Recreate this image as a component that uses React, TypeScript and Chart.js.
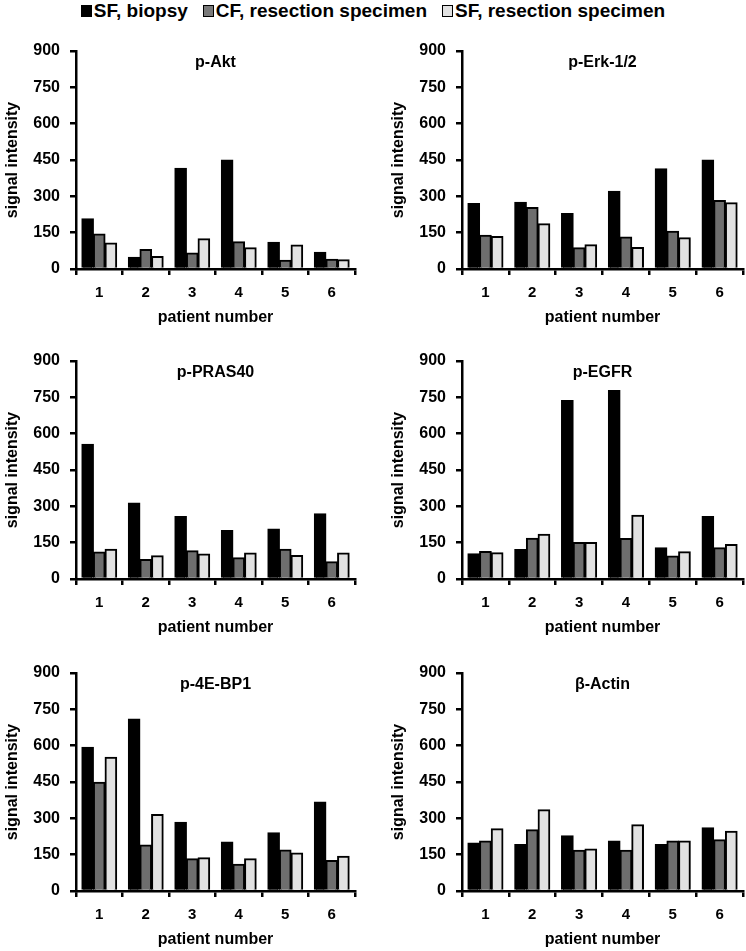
import { useEffect, useRef } from "react";
import { Chart, registerables, type ChartConfiguration, type Plugin } from "chart.js";

Chart.register(...registerables);

const FONT = '"Liberation Sans", Arial, sans-serif';

const patients = ["1", "2", "3", "4", "5", "6"];
const yTicks = [0, 150, 300, 450, 600, 750, 900];
const seriesLabels = ["SF, biopsy", "CF, resection specimen", "SF, resection specimen"];
const seriesColors = ["#000000", "#6e6e6e", "#e2e2e2"];

// p-Akt
const aktSfBiopsy = [207, 48, 416, 450, 110, 69];
const aktCfResection = [145, 80, 66, 112, 36, 40];
const aktSfResection = [107, 52, 125, 88, 99, 38];

// p-Erk-1/2
const erkSfBiopsy = [270, 276, 229, 321, 414, 450];
const erkCfResection = [139, 254, 88, 132, 156, 283];
const erkSfResection = [134, 187, 100, 89, 129, 274];

// p-PRAS40
const prasSfBiopsy = [556, 314, 258, 200, 206, 269];
const prasCfResection = [111, 80, 117, 88, 123, 71];
const prasSfResection = [123, 96, 103, 107, 97, 107];

// p-EGFR
const egfrSfBiopsy = [104, 122, 737, 778, 129, 258];
const egfrCfResection = [114, 168, 151, 167, 95, 129];
const egfrSfResection = [108, 185, 151, 263, 112, 142];

// p-4E-BP1
const bp1SfBiopsy = [593, 710, 284, 202, 240, 367];
const bp1CfResection = [449, 190, 133, 110, 169, 126];
const bp1SfResection = [552, 316, 137, 133, 157, 143];

// β-Actin
const actinSfBiopsy = [198, 192, 228, 206, 192, 261];
const actinCfResection = [206, 253, 168, 168, 206, 212];
const actinSfResection = [257, 335, 173, 273, 206, 247];

const panelTitles = ["p-Akt", "p-Erk-1/2", "p-PRAS40", "p-EGFR", "p-4E-BP1", "β-Actin"];
const panelSeries = [
  [aktSfBiopsy, aktCfResection, aktSfResection],
  [erkSfBiopsy, erkCfResection, erkSfResection],
  [prasSfBiopsy, prasCfResection, prasSfResection],
  [egfrSfBiopsy, egfrCfResection, egfrSfResection],
  [bp1SfBiopsy, bp1CfResection, bp1SfResection],
  [actinSfBiopsy, actinCfResection, actinSfResection],
];

const ROW_TOPS = [30, 340, 652];
const PANEL_H = 298;

const innerTitle: Plugin<"bar"> = {
  id: "innerTitle",
  afterDraw(chart) {
    const text = (chart.options.plugins as any).innerTitle?.text;
    if (!text) return;
    const { ctx, chartArea } = chart;
    ctx.save();
    ctx.font = `bold 16px ${FONT}`;
    ctx.fillStyle = "#000";
    ctx.textAlign = "center";
    ctx.textBaseline = "middle";
    ctx.fillText(text, (chartArea.left + chartArea.right) / 2, chartArea.top + 12);
    ctx.restore();
  },
};

function Panel({
  title,
  series,
  width,
  plotRight,
}: {
  title: string;
  series: number[][];
  width: number;
  plotRight: number;
}) {
  const canvasRef = useRef<HTMLCanvasElement | null>(null);

  useEffect(() => {
    const canvas = canvasRef.current;
    if (!canvas) return;

    const config: ChartConfiguration<"bar"> = {
      type: "bar",
      data: {
        labels: patients,
        datasets: series.map((values, i) => ({
          label: seriesLabels[i],
          data: values,
          backgroundColor: seriesColors[i],
          borderColor: "#000",
          borderWidth: 2,
          inflateAmount: 0.5,
          barPercentage: 1,
          categoryPercentage: 0.75,
        })),
      },
      options: {
        animation: false,
        responsive: false,
        maintainAspectRatio: false,
        layout: { padding: { top: 21, right: width - plotRight, left: 0, bottom: 0 } },
        plugins: {
          legend: { display: false },
          tooltip: { enabled: false },
          innerTitle: { text: title },
        } as any,
        scales: {
          x: {
            afterFit(scale) {
              scale.height = 59;
            },
            ticks: { color: "#000", font: { family: FONT, size: 15, weight: "bold" }, padding: 9 },
            grid: {
              drawOnChartArea: false,
              color: "#000",
              lineWidth: 2.5,
              tickLength: 6,
            },
            border: { color: "#000", width: 2.5 },
            title: {
              display: true,
              text: "patient number",
              color: "#000",
              font: { family: FONT, size: 16, weight: "bold" },
              padding: { top: 0, bottom: 1 },
            },
          },
          y: {
            min: 0,
            max: 900,
            afterFit(scale) {
              scale.width = 76;
            },
            afterBuildTicks(scale) {
              scale.ticks = yTicks.map((value) => ({ value }));
            },
            ticks: { color: "#000", font: { family: FONT, size: 16, weight: "bold" }, padding: 10 },
            grid: {
              drawOnChartArea: false,
              color: "#000",
              lineWidth: 2.5,
              tickLength: 6,
            },
            border: { color: "#000", width: 2.5 },
            title: {
              display: true,
              text: "signal intensity",
              color: "#000",
              font: { family: FONT, size: 16, weight: "bold" },
              padding: { top: 3, bottom: 0 },
            },
          },
        },
      },
      plugins: [innerTitle],
    };

    const chart = new Chart(canvas, config);
    return () => chart.destroy();
  }, [title, series, width, plotRight]);

  return <canvas ref={canvasRef} width={width} height={PANEL_H} style={{ width, height: PANEL_H }} />;
}

function Legend() {
  return (
    <div
      style={{
        position: "absolute",
        top: 0,
        left: 0,
        width: 746,
        height: 22,
        display: "flex",
        justifyContent: "center",
        alignItems: "center",
        gap: 15,
        fontFamily: FONT,
        fontWeight: "bold",
        fontSize: 19,
        color: "#000",
      }}
    >
      {seriesLabels.map((label, i) => (
        <div key={label} style={{ display: "flex", alignItems: "center", gap: 2 }}>
          <span
            style={{
              display: "inline-block",
              width: 9,
              height: 10,
              background: i === 1 ? "#7a7a7a" : seriesColors[i],
              border: "1.5px solid #000",
            }}
          />
          <span style={{ whiteSpace: "nowrap" }}>{label}</span>
        </div>
      ))}
    </div>
  );
}

export default function App() {
  return (
    <div
      style={{
        position: "absolute",
        left: 0,
        top: 0,
        width: 746,
        height: 951,
        overflow: "hidden",
        background: "#fff",
      }}
    >
      <Legend />
      {panelTitles.map((title, i) => {
        const row = Math.floor(i / 2);
        const col = i % 2;
        const left = col === 0 ? 0 : 386;
        const width = col === 0 ? 373 : 360;
        const plotRight = col === 0 ? 355 : 357;
        return (
          <div key={title} style={{ position: "absolute", left, top: ROW_TOPS[row], width, height: PANEL_H }}>
            <Panel title={title} series={panelSeries[i]} width={width} plotRight={plotRight} />
          </div>
        );
      })}
    </div>
  );
}
